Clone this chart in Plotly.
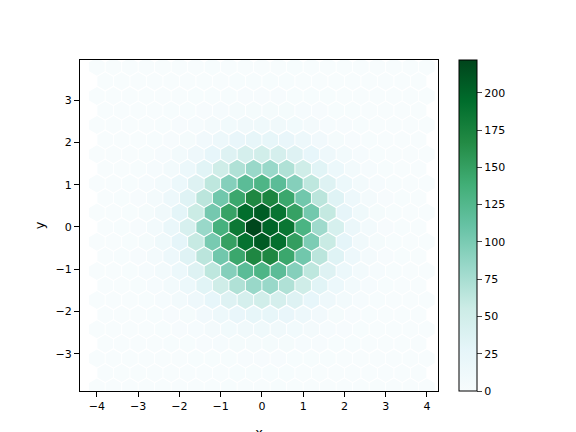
import plotly.graph_objects as go

# hexbin counts, one list per hex row (bottom to top)
# even rows start at x=-4.0 (21 cells), odd rows at x=-3.8 (20 cells); step 0.4 in x
row_y0 = -3.8
row_dy = 0.345
counts = [
    [0,0,0,0,0,0,0,0,1,0,0,1,0,0,0,0,0,0,0,0,0],
    [0,0,0,0,0,0,0,0,1,1,1,1,0,0,0,0,0,0,0,0],
    [0,0,0,0,0,0,1,1,1,2,2,2,1,1,1,0,0,0,0,0,0],
    [0,0,0,0,1,1,2,3,4,5,5,4,3,2,1,1,0,0,0,0],
    [0,0,0,0,1,2,3,6,9,11,12,11,9,6,3,2,1,0,0,0,0],
    [0,0,0,1,2,5,10,16,22,25,25,22,16,10,5,2,1,0,0,0],
    [0,0,0,1,3,7,14,24,36,46,50,46,36,24,14,7,3,1,0,0,0],
    [0,0,1,3,8,17,32,52,71,83,83,71,52,32,17,8,3,1,0,0],
    [0,0,1,3,7,17,36,63,94,119,129,119,94,63,36,17,7,3,1,0,0],
    [0,1,2,6,15,34,65,105,144,170,170,144,105,65,34,15,6,2,1,0],
    [0,0,1,4,12,28,58,101,150,190,207,192,152,99,57,27,11,4,1,0,0],
    [0,1,2,7,20,43,83,134,184,220,200,186,131,80,44,19,8,2,1,0],
    [0,0,1,4,11,29,56,103,148,193,205,188,149,104,60,26,12,4,1,0,0],
    [0,1,2,6,15,34,65,105,144,170,172,144,105,65,34,15,6,2,1,0],
    [0,0,1,3,7,17,36,63,94,119,129,119,94,63,36,17,7,3,1,0,0],
    [0,0,1,3,8,17,32,52,71,83,83,71,52,32,17,8,3,1,0,0],
    [0,0,0,1,3,7,14,24,36,46,50,46,36,24,14,7,3,1,0,0,0],
    [0,0,0,1,2,5,10,16,22,25,25,22,16,10,5,2,1,0,0,0],
    [0,0,0,0,1,2,3,6,9,11,12,11,9,6,3,2,1,0,0,0,0],
    [0,0,0,0,1,1,2,3,4,5,5,4,3,2,1,1,0,0,0,0],
    [0,0,0,0,0,0,1,1,1,2,2,2,1,1,1,0,0,0,0,0,0],
    [0,0,0,0,0,0,0,0,1,1,1,1,0,0,0,0,0,0,0,0],
    [0,0,0,0,0,0,0,1,0,0,0,0,1,0,0,0,0,0,0,0,0],
]

xs, ys, cs = [], [], []
for k, row in enumerate(counts):
    x0 = -4.0 if k % 2 == 0 else -3.8
    for i, c in enumerate(row):
        xs.append(x0 + 0.4 * i)
        ys.append(row_y0 + row_dy * k)
        cs.append(c)

fig = go.Figure(go.Scatter(
    x=xs, y=ys, mode="markers",
    marker=dict(symbol="hexagon", size=18, color=cs, colorscale="BuGn",
                cmin=0, cmax=222, line=dict(width=0),
                colorbar=dict(thickness=18, lenmode="pixels", len=331,
                              x=0.783, xanchor="left", y=0.5, yanchor="middle",
                              xpad=0, ypad=0,
                              tickvals=list(range(0, 201, 25)), ticks="outside",
                              outlinewidth=1, outlinecolor="black")),
    hoverinfo="skip"))

ax = dict(showline=True, linecolor="black", mirror=True, ticks="outside",
          showgrid=False, zeroline=False, tickcolor="black")
fig.update_xaxes(range=[-4.41, 4.27], tickvals=list(range(-4, 5)), title="x",
                 domain=[0, 0.7397], automargin=False, **ax)
fig.update_yaxes(range=[-3.88, 3.95], tickvals=list(range(-3, 4)), title="y",
                 title_standoff=8, automargin=False, **ax)
fig.update_layout(width=576, height=432, margin=dict(l=72, r=20, t=52, b=49),
                  plot_bgcolor="white", paper_bgcolor="white",
                  font=dict(family="DejaVu Sans", size=11, color="black"))
fig.write_html("out.html")
